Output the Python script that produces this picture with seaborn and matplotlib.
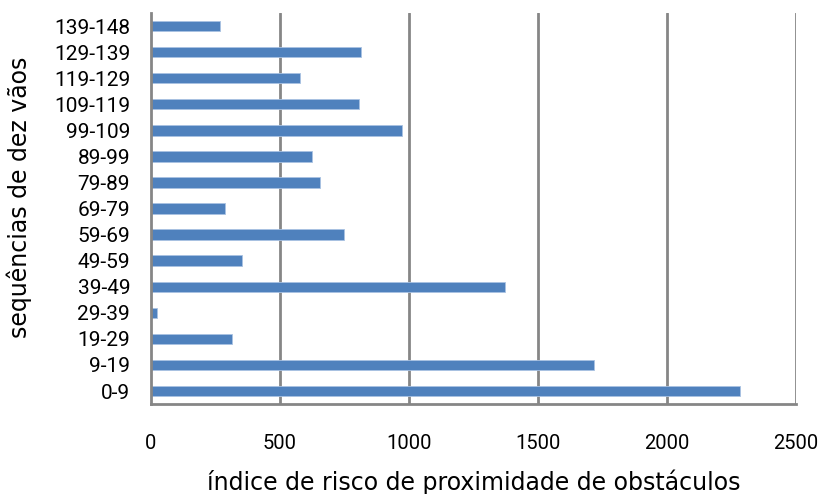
import numpy as np
import pandas as pd
import matplotlib
matplotlib.use("Agg")
import matplotlib.pyplot as plt
import seaborn as sns
from matplotlib.ticker import FixedLocator

# ---------------------------------------------------------------
# dados
# ---------------------------------------------------------------
sequencias = ["0-9", "9-19", "19-29", "29-39", "39-49", "49-59", "59-69",
              "69-79", "79-89", "89-99", "99-109", "109-119", "119-129",
              "129-139", "139-148"]
indice_risco = [2282, 1716, 314, 24, 1373, 354, 748, 288, 656, 623, 972,
                807, 577, 814, 267]
x_ticks = [0, 500, 1000, 1500, 2000, 2500]

df = pd.DataFrame({"seq": sequencias, "risco": indice_risco})
ordem = sequencias[::-1]  # topo = 139-148

sns.set_style("white")
plt.rcParams["font.family"] = ["DejaVu Sans"]
plt.rcParams["text.color"] = "black"
plt.rcParams["axes.labelcolor"] = "black"
plt.rcParams["xtick.color"] = "black"
plt.rcParams["ytick.color"] = "black"

GRAY = "#868686"
BLUE = "#4F81BD"
TICK_FONT = ["Roboto", "DejaVu Sans"]
LW = 2.0

fig = plt.figure(figsize=(8.22, 4.94), dpi=100)
ax = fig.add_axes([0.1837, 0.182, 0.7847, 0.7917])

sns.barplot(data=df, x="risco", y="seq", order=ordem, orient="h",
            color=BLUE, saturation=1, width=0.4, edgecolor="#A9C2E2",
            linewidth=0.6, ax=ax, zorder=3)

ax.set_xlim(0, 2500)
ax.set_ylim(len(ordem) - 0.5, -0.5)
ax.set_xticks(x_ticks)
ax.set_xticklabels([str(t) for t in x_ticks])

# grelha vertical
for t in x_ticks[1:]:
    ax.axvline(t, color=GRAY, lw=LW, zorder=1)

for s in ["top", "right"]:
    ax.spines[s].set_visible(False)
for s in ["left", "bottom"]:
    ax.spines[s].set_color(GRAY)
    ax.spines[s].set_linewidth(LW)
    ax.spines[s].set_zorder(4)

# marcas do eixo y entre categorias
ax.yaxis.set_minor_locator(FixedLocator(np.arange(-0.5, len(ordem), 1.0)))
ax.tick_params(axis="y", which="major", length=0, pad=15, labelcolor="black")
ax.tick_params(axis="y", which="minor", length=6, width=LW, color=GRAY,
               direction="out")
ax.tick_params(axis="x", which="major", length=4.5, width=LW, color=GRAY,
               direction="out", pad=17, labelcolor="black")
for lab in ax.get_yticklabels():
    lab.set_fontfamily(TICK_FONT)
    lab.set_fontsize(15)
for lab in ax.get_xticklabels():
    lab.set_fontfamily(TICK_FONT)
    lab.set_fontsize(14.5)

ax.set_xlabel("índice de risco de proximidade de obstáculos", fontsize=17,
              va="center", color="black")
ax.set_ylabel("sequências de dez vãos", fontsize=17, va="center",
              color="black")
ax.xaxis.set_label_coords(0.5, -0.2)
ax.yaxis.set_label_coords(-0.204, 0.528)

fig.savefig("out.png", dpi=100)
